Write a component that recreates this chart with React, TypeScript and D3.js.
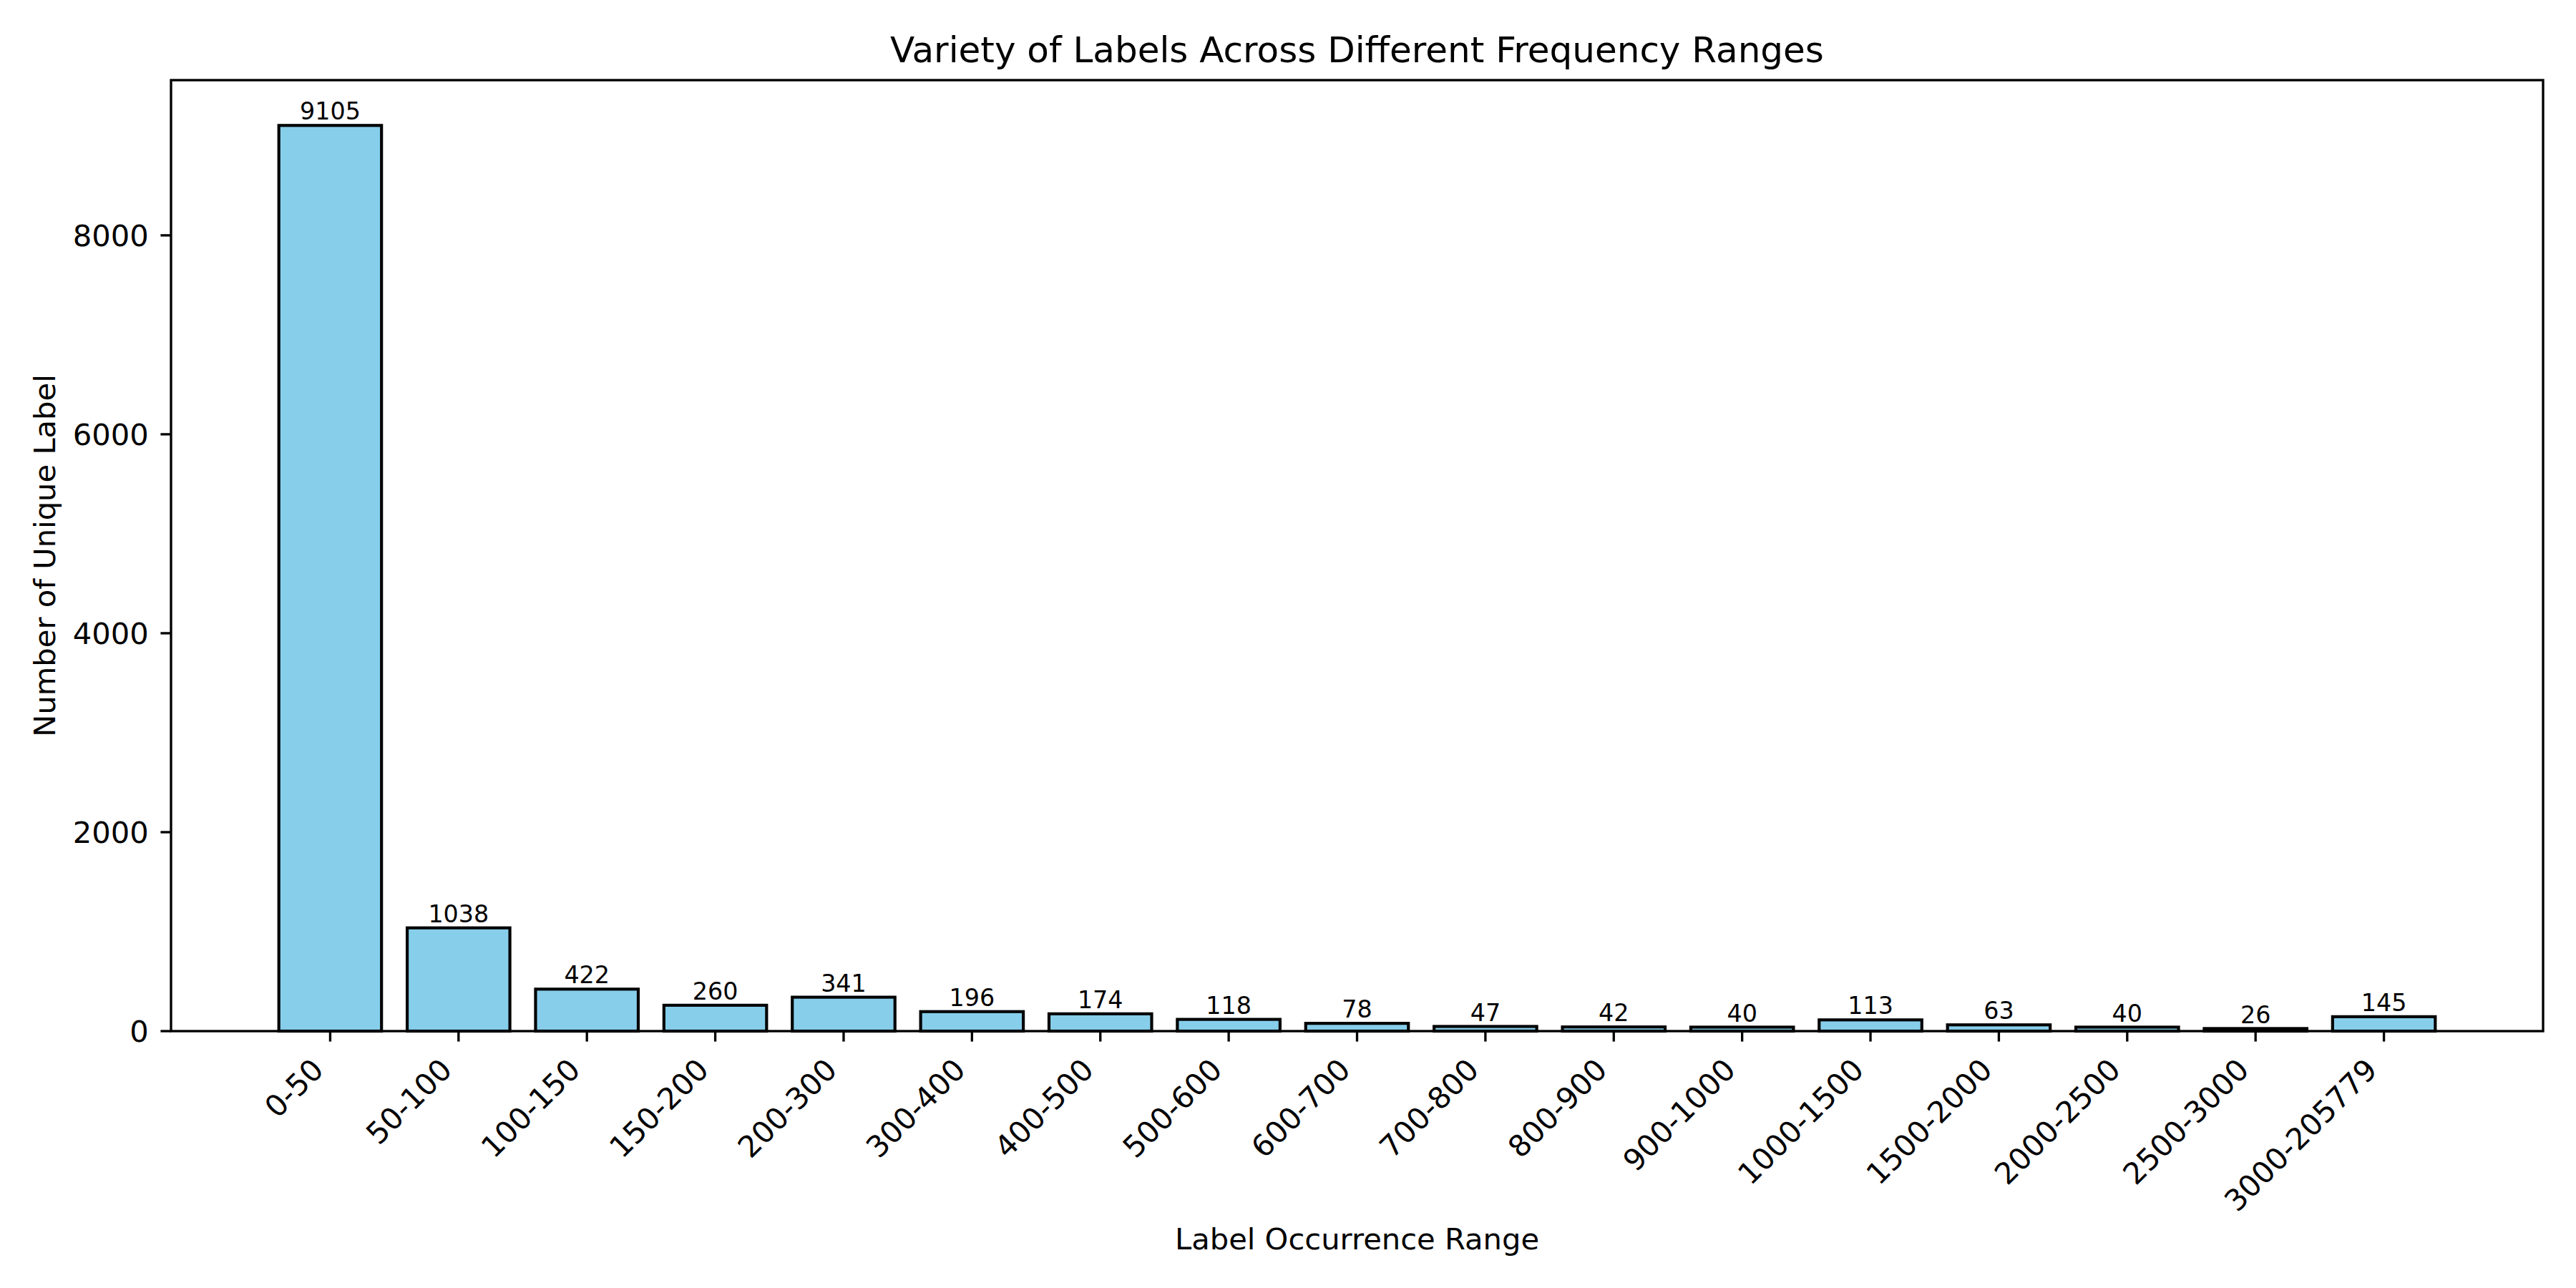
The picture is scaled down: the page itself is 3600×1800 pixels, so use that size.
import React from "react";
import * as d3 from "d3";

const categories: string[] = [
  "0-50", "50-100", "100-150", "150-200", "200-300", "300-400", "400-500",
  "500-600", "600-700", "700-800", "800-900", "900-1000", "1000-1500",
  "1500-2000", "2000-2500", "2500-3000", "3000-205779",
];
const counts: number[] = [
  9105, 1038, 422, 260, 341, 196, 174, 118, 78, 47, 42, 40, 113, 63, 40, 26, 145,
];

const titleText = "Variety of Labels Across Different Frequency Ranges";
const xLabelText = "Label Occurrence Range";
const yLabelText = "Number of Unique Label";

const W = 3600;
const H = 1800;
const left = 239;
const right = 3554;
const top = 112;
const bottom = 1441;
const FONT = "DejaVu Sans, Liberation Sans, sans-serif";
const pt = 300 / 72;

export default function App() {
  const n = categories.length;
  const barW = 0.8;
  const lo = -barW / 2;
  const hi = n - 1 + barW / 2;
  const m = (hi - lo) * 0.05;
  const x = d3.scaleLinear().domain([lo - m, hi + m]).range([left, right]);
  const maxV = d3.max(counts) as number;
  const y = d3.scaleLinear().domain([0, maxV * 1.05]).range([bottom, top]);
  const yTicks = y.ticks(5);

  const fs = 10 * pt;
  const fsTitle = 12 * pt;
  const fsBar = 8 * pt;
  const tickLen = 3.5 * pt;
  const tickPad = 3.5 * pt;
  const spineW = 0.8 * pt;
  const edgeW = 1.0 * pt;

  return (
    <svg
      width={W}
      height={H}
      viewBox={`0 0 ${W} ${H}`}
      style={{ position: "absolute", left: 0, top: 0, background: "#fff" }}
      fontFamily={FONT}
    >
      <rect x={0} y={0} width={W} height={H} fill="#ffffff" />
      {/* bars */}
      {counts.map((v, i) => (
        <rect
          key={"b" + i}
          x={x(i - barW / 2)}
          y={y(v)}
          width={x(i + barW / 2) - x(i - barW / 2)}
          height={y(0) - y(v)}
          fill="#87CEEB"
          stroke="#000"
          strokeWidth={edgeW}
        />
      ))}
      {/* bar value labels */}
      {counts.map((v, i) => (
        <text
          key={"v" + i}
          x={x(i)}
          y={y(v) - 0.236 * fsBar}
          fontSize={fsBar}
          textAnchor="middle"
          fill="#000"
        >
          {v}
        </text>
      ))}
      {/* spines */}
      <rect
        x={left}
        y={top}
        width={right - left}
        height={bottom - top}
        fill="none"
        stroke="#000"
        strokeWidth={spineW}
      />
      {/* y ticks */}
      {yTicks.map((t) => (
        <g key={"yt" + t}>
          <line
            x1={left - tickLen}
            x2={left}
            y1={y(t)}
            y2={y(t)}
            stroke="#000"
            strokeWidth={spineW}
          />
          <text
            x={left - tickLen - tickPad - 2}
            y={y(t)}
            dy="0.365em"
            fontSize={fs}
            textAnchor="end"
            fill="#000"
          >
            {t}
          </text>
        </g>
      ))}
      {/* x ticks */}
      {categories.map((c, i) => {
        const tx = x(i);
        const ax = tx - 0.707 * 0.236 * fs;
        const ay = bottom + tickLen + tickPad + 0.707 * 0.928 * fs;
        return (
          <g key={"xt" + i}>
            <line
              x1={tx}
              x2={tx}
              y1={bottom}
              y2={bottom + tickLen}
              stroke="#000"
              strokeWidth={spineW}
            />
            <text
              transform={`translate(${ax},${ay}) rotate(-45)`}
              fontSize={fs}
              textAnchor="end"
              fill="#000"
            >
              {c}
            </text>
          </g>
        );
      })}
      {/* title */}
      <text
        x={(left + right) / 2}
        y={87}
        fontSize={fsTitle}
        textAnchor="middle"
        fill="#000"
      >
        {titleText}
      </text>
      {/* x label */}
      <text
        x={(left + right) / 2}
        y={1746}
        fontSize={fs}
        textAnchor="middle"
        fill="#000"
      >
        {xLabelText}
      </text>
      {/* y label */}
      <text
        transform={`translate(77,${(top + bottom) / 2}) rotate(-90)`}
        fontSize={fs}
        textAnchor="middle"
        fill="#000"
      >
        {yLabelText}
      </text>
    </svg>
  );
}
